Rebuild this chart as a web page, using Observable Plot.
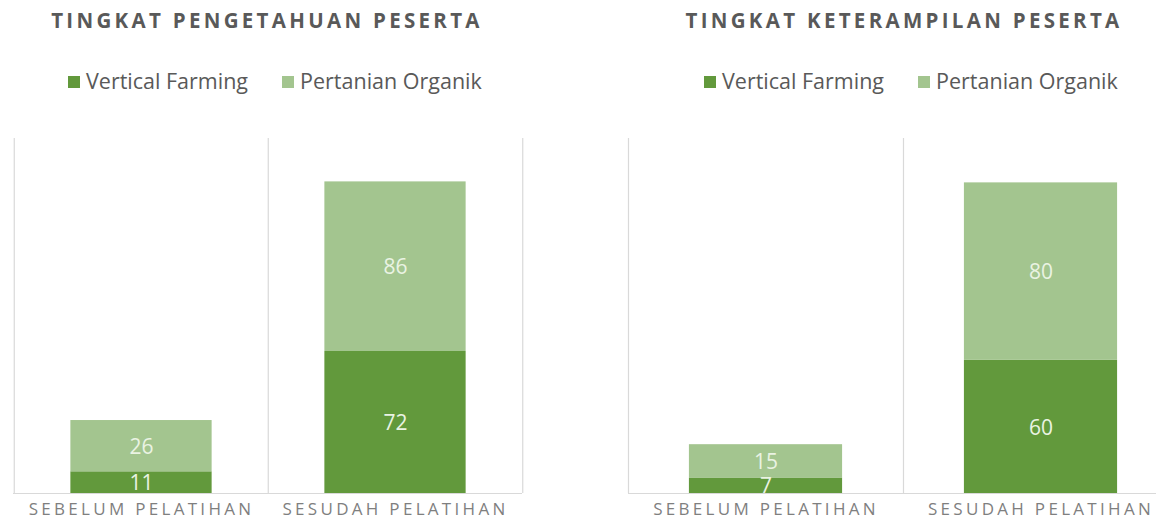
<!DOCTYPE html>
<html>
<head>
<meta charset="utf-8">
<script src="https://cdn.jsdelivr.net/npm/d3@7"></script>
<script src="https://cdn.jsdelivr.net/npm/@observablehq/plot@0.6"></script>
<style>
  html, body { margin: 0; padding: 0; background: #ffffff; }
  body { width: 1156px; height: 531px; overflow: hidden; position: relative; font-family: 'Open Sans', sans-serif; }
  .title { position: absolute; top: 6px; width: 560px; text-align: center; font-weight: 700; font-size: 20.5px; letter-spacing: 3.3px; color: #595959; line-height: 28px; }
  .legend { position: absolute; top: 66px; display: flex; align-items: center; font-size: 21.5px; color: #595959; line-height: 30px; white-space: nowrap; }
  .legend .item { display: flex; align-items: center; margin-right: 34px; }
  .legend .sw { width: 12px; height: 12px; margin-right: 6px; margin-top: 2px; }
  .panel { position: absolute; top: 120px; }
  .panel svg { overflow: visible; max-width: none !important; }
  .panel g[aria-label="x-axis tick label"] text { letter-spacing: 3.3px; }
</style>
</head>
<body>
<div id="t1" class="title"></div>
<div id="t2" class="title"></div>
<div id="l1" class="legend"></div>
<div id="l2" class="legend"></div>
<div id="p1" class="panel"></div>
<div id="p2" class="panel"></div>
<script>
// ---- data ----
const categories = ["SEBELUM PELATIHAN", "SESUDAH PELATIHAN"];
const seriesNames = ["Vertical Farming", "Pertanian Organik"];
const seriesColors = ["#62993c", "#a3c58f"];
const titles = ["TINGKAT PENGETAHUAN PESERTA", "TINGKAT KETERAMPILAN PESERTA"];
const pengetahuanVF = [11, 72];
const pengetahuanPO = [26, 86];
const keterampilanVF = [7, 60];
const keterampilanPO = [15, 80];
const yMaxPengetahuan = 180;
const yMaxKeterampilan = 160;

function buildPanel(vf, po, yMax, width, marginLeft, marginRight) {
  const data = categories.flatMap((c, i) => [
    {cat: c, series: seriesNames[0], value: vf[i]},
    {cat: c, series: seriesNames[1], value: po[i]}
  ]);
  const bw = (width - marginLeft - marginRight) / categories.length;
  const inset = bw * 0.2215;
  return Plot.plot({
    width, height: 411,
    marginTop: 18, marginBottom: 38, marginLeft, marginRight,
    x: {domain: categories, padding: 0, label: null},
    y: {domain: [0, yMax], axis: null},
    color: {domain: seriesNames, range: seriesColors},
    style: {fontFamily: "'Open Sans', sans-serif", background: "transparent", maxWidth: "none"},
    marks: [
      Plot.ruleX(categories, {x: d => d, dx: -bw / 2, stroke: "#d9d9d9", strokeWidth: 1.2}),
      Plot.ruleX(categories.slice(-1), {x: d => d, dx: bw / 2, stroke: "#d9d9d9", strokeWidth: 1.2}),
      Plot.barY(data, Plot.stackY({x: "cat", y: "value", fill: "series", order: seriesNames, insetLeft: inset, insetRight: inset})),
      Plot.ruleY([0], {stroke: "#d9d9d9", strokeWidth: 1.2}),
      Plot.text(data, Plot.stackY({x: "cat", y: "value", z: "series", order: seriesNames, text: "value", fill: "#eaf3e3", fontSize: 21, dy: 1})),
      Plot.axisX({tickSize: 0, tickPadding: 9, fontSize: 17, fill: "#7f7f7f", fontWeight: 400})
    ]
  });
}

function buildLegend(el) {
  seriesNames.forEach((s, i) => {
    const item = document.createElement("div");
    item.className = "item";
    const sw = document.createElement("div");
    sw.className = "sw";
    sw.style.background = seriesColors[i];
    const tx = document.createElement("span");
    tx.textContent = s;
    item.appendChild(sw);
    item.appendChild(tx);
    el.appendChild(item);
  });
}

const t1 = document.getElementById("t1");
t1.textContent = titles[0];
t1.style.left = (267 - 280) + "px";
const t2 = document.getElementById("t2");
t2.textContent = titles[1];
t2.style.left = (904 - 280) + "px";

const l1 = document.getElementById("l1");
l1.style.left = "68px";
buildLegend(l1);
const l2 = document.getElementById("l2");
l2.style.left = "704px";
buildLegend(l2);

const p1 = document.getElementById("p1");
p1.style.left = "0px";
p1.style.width = "535px";
p1.appendChild(buildPanel(pengetahuanVF, pengetahuanPO, yMaxPengetahuan, 535, 13, 13));
const p2 = document.getElementById("p2");
p2.style.left = "578px";
p2.style.width = "620px";
p2.appendChild(buildPanel(keterampilanVF, keterampilanPO, yMaxKeterampilan, 620, 50, 20));
</script>
</body>
</html>
